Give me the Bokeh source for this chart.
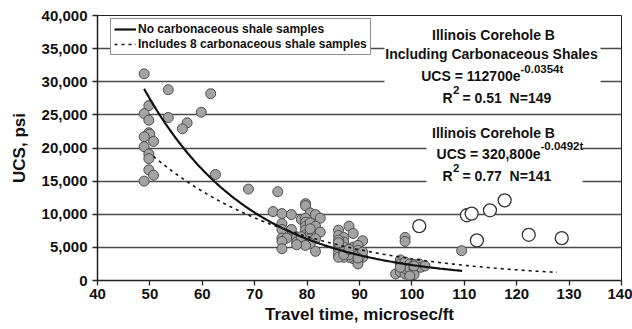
import numpy as np
from bokeh.plotting import figure
from bokeh.models import (Label, BoxAnnotation, Legend, LegendItem,
                          NumeralTickFormatter, FixedTicker, Range1d)
from bokeh.embed import file_html
from bokeh.resources import INLINE

# ---------------- data ----------------
filled_t = [48.9, 53.5, 61.6, 49.8, 48.9, 59.8, 53.5, 49.8, 57.1, 56.2, 49.8, 50.0,
            48.9, 50.7, 48.9, 49.8, 49.8, 49.8, 50.7, 48.9, 62.5,
            68.8, 74.4, 79.7, 79.7, 73.5, 75.2, 77.0, 80.6, 81.6, 82.5, 78.9,
            79.7, 79.7, 79.7, 79.7, 79.7, 79.7, 79.7,
            80.6, 81.6, 82.5, 75.2, 75.2, 77.0, 75.2, 76.1, 75.2, 75.2, 78.0, 78.0,
            78.9, 78.9, 80.6, 80.6, 81.6, 81.6, 80.6, 79.7, 78.0, 80.6,
            88.0, 86.0, 88.8, 86.0, 87.0, 87.0, 90.6, 86.0, 86.0, 86.0, 86.0, 87.0,
            87.0, 88.8, 89.7, 89.7, 88.0, 88.8, 89.7, 90.6, 89.7, 88.8, 88.0, 87.0,
            86.0, 90.6, 89.7, 88.0, 87.0, 86.0, 89.7, 88.0,
            98.7, 98.7, 97.8, 97.8, 98.7, 99.6, 100.4, 101.4, 96.9, 97.8, 98.7, 99.6,
            100.4, 98.7, 99.6, 100.4, 97.8, 100.4, 101.7, 102.5, 99.6, 100.4,
            109.5]
filled_ucs = [31200, 28800, 28200, 26400, 25200, 25400, 24600, 24200, 23800, 22900, 22300, 22100,
              21700, 21000, 20200, 19100, 18400, 16700, 15900, 15000, 16000,
              13800, 13400, 11600, 11300, 10400, 10100, 9950, 10200, 9950, 9400, 9200,
              9400, 8800, 8200, 7600, 6900, 6300, 5650,
              8700, 8200, 7300, 8600, 7700, 7700, 6400, 6400, 5900, 4800, 6600, 5800,
              5800, 6600, 7100, 6300, 6300, 4400, 5600, 5300, 5400, 7800,
              8200, 7600, 7100, 6800, 6500, 5800, 6000, 6100, 5300, 4650, 4000, 5050,
              4300, 5050, 5300, 4550, 4300, 4000, 3800, 3500, 3000, 3300, 3500, 3500,
              3500, 4300, 2500, 3900, 3900, 5700, 3400, 4700,
              6500, 5900, 3100, 2500, 2800, 2500, 2400, 2500, 1000, 1300, 1000, 1000,
              1300, 1800, 1800, 1800, 2000, 900, 2000, 2200, 700, 2200,
              4500]
open_t = [101.4, 110.5, 111.4, 114.9, 117.7, 112.4, 122.3, 128.6]
open_ucs = [8200, 9850, 10100, 10600, 12100, 6050, 6900, 6400]

# fitted curves as given on the chart: UCS = a * exp(b * t)
fit_no_carb = {"a": 320800, "b": -0.0492, "t0": 48.9, "t1": 109.6}
fit_with_carb = {"a": 112700, "b": -0.0354, "t0": 50.7, "t1": 127.7}

x_ticks = list(range(40, 141, 10))
y_ticks = list(range(0, 40001, 5000))
legend_labels = ["No carbonaceous shale samples", "Includes 8 carbonaceous shale samples"]

FONT = "Liberation Sans"

p = figure(width=632, height=329, output_backend="svg", toolbar_location=None,
           x_range=Range1d(40, 140), y_range=Range1d(0, 40000),
           min_border_left=97, min_border_right=11, min_border_top=15, min_border_bottom=49)
p.background_fill_color = "white"
p.border_fill_color = "white"
p.outline_line_color = "#222222"
p.outline_line_width = 1

p.xgrid.visible = False
p.ygrid.ticker = FixedTicker(ticks=y_ticks)
p.ygrid.grid_line_color = "#4a4a4a"
p.ygrid.grid_line_width = 1.6

p.xaxis.ticker = FixedTicker(ticks=x_ticks)
p.yaxis.ticker = FixedTicker(ticks=y_ticks)
p.yaxis.formatter = NumeralTickFormatter(format="0,0")
for ax in (p.xaxis[0], p.yaxis[0]):
    ax.major_label_text_font = FONT
    ax.major_label_text_font_style = "bold"
    ax.major_label_text_font_size = "15px"
    ax.major_label_text_color = "#111111"
    ax.axis_label_text_font = FONT
    ax.axis_label_text_font_style = "bold"
    ax.axis_label_text_font_size = "17px"
    ax.axis_label_text_color = "#111111"
    ax.major_tick_in = 0
    ax.major_tick_out = 5
    ax.minor_tick_line_color = None
    ax.axis_line_color = "#222222"
    ax.axis_line_width = 1.5
    ax.major_tick_line_color = "#222222"
    ax.major_tick_line_width = 1.3
p.xaxis.axis_label = "Travel time, microsec/ft"
p.yaxis.axis_label = "UCS, psi"
p.xaxis.major_label_standoff = 3
p.xaxis.axis_label_standoff = 3
p.yaxis.major_label_standoff = 5
p.yaxis.axis_label_standoff = 10

# points
p.scatter(filled_t, filled_ucs, size=10, fill_color="#a3a3a3", line_color="#4d4d4d", line_width=1)
p.scatter(open_t, open_ucs, size=13, fill_color="white", line_color="#333333", line_width=1.3)

# fit curves
ta = np.linspace(fit_no_carb["t0"], fit_no_carb["t1"], 200)
ua = fit_no_carb["a"] * np.exp(fit_no_carb["b"] * ta)
tb = np.linspace(fit_with_carb["t0"], fit_with_carb["t1"], 200)
ub = fit_with_carb["a"] * np.exp(fit_with_carb["b"] * tb)
r_solid = p.line(ta, ua, line_color="#111111", line_width=2.2)
r_dot = p.line(tb, ub, line_color="#111111", line_width=1.6, line_dash="3 4")

legend = Legend(items=[LegendItem(label=legend_labels[0], renderers=[r_solid]),
                       LegendItem(label=legend_labels[1], renderers=[r_dot])],
                location=(13, 225))
legend.label_text_font = FONT
legend.label_text_font_style = "bold"
legend.label_text_font_size = "12px"
legend.label_text_color = "#111111"
legend.border_line_color = "#222222"
legend.border_line_width = 1
legend.background_fill_alpha = 1
legend.padding = 3
legend.spacing = 1
legend.margin = 0
legend.glyph_width = 22
legend.glyph_height = 14
legend.label_height = 14
legend.label_standoff = 2
p.add_layout(legend)

def tx(px):
    return 40 + (px - 97) * 100.0 / 524

def uy(py):
    return (280 - py) * 40000.0 / 265

p.add_layout(BoxAnnotation(left=tx(384), right=tx(600), top=uy(27), bottom=uy(106),
                           fill_color="white", fill_alpha=1, line_alpha=0))
p.add_layout(BoxAnnotation(left=tx(426), right=tx(582), top=uy(124), bottom=uy(185),
                           fill_color="white", fill_alpha=1, line_alpha=0))

def lab(text, px, py, align="center", size="14px"):
    p.add_layout(Label(x=tx(px), y=uy(py), text=text, text_align=align,
                       text_baseline="middle", text_font=FONT, text_font_style="bold",
                       text_font_size=size, text_color="#111111"))

lab("Illinois Corehole B", 493, 34)
lab("Including Carbonaceous Shales", 491, 53)
lab("UCS = 112700e", 520, 75, "right")
lab("-0.0354t", 520, 68, "left", "11.5px")
lab("R", 452, 97, "right")
lab("2", 452.5, 89.5, "left", "11.5px")
lab("= 0.51\u00a0 N=149", 462, 97, "left")

lab("Illinois Corehole B", 493, 132)
lab("UCS = 320,800e", 540, 153, "right")
lab("-0.0492t", 540, 145.5, "left", "11.5px")
lab("R", 452, 175, "right")
lab("2", 452.5, 167.5, "left", "11.5px")
lab("= 0.77\u00a0 N=141", 462, 175, "left")

open("out.html", "w").write(file_html(p, INLINE))
